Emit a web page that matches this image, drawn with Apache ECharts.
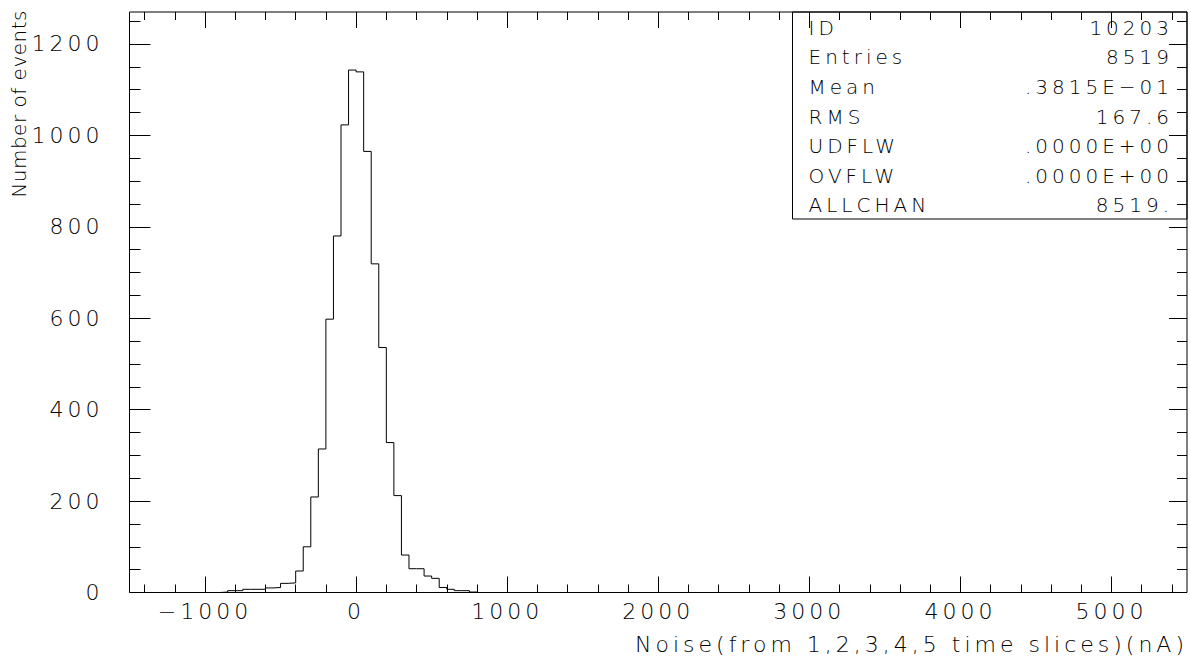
<!DOCTYPE html>
<html><head><meta charset="utf-8">
<script src="https://cdn.jsdelivr.net/npm/echarts@6/dist/echarts.min.js"></script>
<style>
html,body{margin:0;padding:0;background:#fff;}
#chart{width:1191px;height:659px;letter-spacing:4px;}
</style></head><body>
<div id="chart"></div>
<script>
// ---- data (bin width 50) ----
const binLowEdges = [-900,-850,-800,-750,-700,-650,-600,-550,-500,-450,-400,-350,-300,-250,-200,-150,-100,-50,
                     0,50,100,150,200,250,300,350,400,450,500,550,600,650,700,750];
const binWidth = 50;
const counts = [1,4,4,7,7,7,10,11,20,21,47,100,209,314,598,780,1023,1143,
                1139,965,719,536,328,212,82,52,52,36,31,11,7,4,4,1];
const xMajorTicks = [-1000,0,1000,2000,3000,4000,5000];
const yMajorTicks = [0,200,400,600,800,1000,1200];
const statNames  = ['ID','Entries','Mean','RMS','UDFLW','OVFLW','ALLCHAN'];
const statValues = ['10203','8519','.3815E\u221201','167.6','.0000E+00','.0000E+00','8519.'];
const xTitle = 'Noise(from 1,2,3,4,5 time slices)(nA)';
const yTitle = 'Number of events';
const xRange = [-1500, 5500];
const yRange = [0, 1270];

const xMinorTicks = [];
for (let v = -1400; v <= 5400; v += 200) if (v % 1000 !== 0) xMinorTicks.push(v);
const yMinorTicks = [];
for (let v = 50; v <= 1250; v += 50) if (v % 200 !== 0) yMinorTicks.push(v);

// step outline points
const pts = [[binLowEdges[0], 0]];
for (let i = 0; i < counts.length; i++) pts.push([binLowEdges[i], counts[i]]);
const lastEdge = binLowEdges[binLowEdges.length - 1] + binWidth;
pts.push([lastEdge, counts[counts.length - 1]]);
pts.push([lastEdge, 0]);

const FONT = '"DejaVu Sans", sans-serif';
const FW = 200;
const BLACK = '#000';

function xAxisDef(pos, ticks, len, labels) {
  return {
    type: 'value', gridIndex: 0, position: pos, min: xRange[0], max: xRange[1],
    axisLine: { show: false, onZero: false },
    splitLine: { show: false },
    axisTick: { show: true, inside: true, length: len, customValues: ticks, lineStyle: { color: BLACK, width: 1 } },
    axisLabel: labels ? {
      show: true, customValues: ticks, margin: 8, color: BLACK, fontFamily: FONT, fontSize: 22, fontWeight: FW,
      formatter: v => v < 0 ? '\u2212' + Math.abs(v) : String(v)
    } : { show: false }
  };
}
function yAxisDef(pos, ticks, len, labels) {
  return {
    type: 'value', gridIndex: 0, position: pos, min: yRange[0], max: yRange[1],
    axisLine: { show: false, onZero: false },
    splitLine: { show: false },
    axisTick: { show: true, inside: true, length: len, customValues: ticks, lineStyle: { color: BLACK, width: 1 } },
    axisLabel: labels ? {
      show: true, customValues: ticks, margin: 26, color: BLACK, fontFamily: FONT, fontSize: 22, fontWeight: FW,
      formatter: v => String(v)
    } : { show: false }
  };
}

const boxX = 792.5, boxY = 12, boxR = 1187, boxB = 219;
const rowH = (boxB - boxY) / statNames.length;
const graphics = [{
  type: 'rect', silent: true, z: 10,
  shape: { x: boxX, y: boxY, width: boxR - boxX, height: boxB - boxY },
  style: { fill: 'none', stroke: BLACK, lineWidth: 1 }
}];
const boxFont = FW + ' 20px ' + FONT;
statNames.forEach((n, i) => {
  const cy = boxY + rowH * (i + 0.5) + 1;
  graphics.push({ type: 'text', z: 11, x: boxX + 16, y: cy,
    style: { text: n, fill: BLACK, font: boxFont, align: 'left', verticalAlign: 'middle', textAlign: 'left', textVerticalAlign: 'middle' } });
  graphics.push({ type: 'text', z: 11, x: boxR - 14, y: cy,
    style: { text: statValues[i], fill: BLACK, font: boxFont, align: 'right', verticalAlign: 'middle', textAlign: 'right', textVerticalAlign: 'middle' } });
});
graphics.push({ type: 'text', z: 11, x: 1188, y: 644,
  style: { text: xTitle, fill: BLACK, font: FW + ' 22px ' + FONT, align: 'right', verticalAlign: 'middle', textAlign: 'right', textVerticalAlign: 'middle' } });
graphics.push({ type: 'text', z: 11, x: 19, y: 10, rotation: Math.PI / 2,
  style: { text: yTitle, fill: BLACK, font: FW + ' 20px ' + FONT, align: 'right', verticalAlign: 'middle', textAlign: 'right', textVerticalAlign: 'middle' } });

const chart = echarts.init(document.getElementById('chart'), null, { renderer: 'svg' });
chart.setOption({
  animation: false,
  backgroundColor: '#fff',
  grid: { left: 129.5, right: 4, top: 12, bottom: 66.5, show: true, borderColor: BLACK, borderWidth: 1, backgroundColor: 'transparent' },
  xAxis: [
    xAxisDef('bottom', xMajorTicks, 16, true),
    xAxisDef('bottom', xMinorTicks, 8, false),
    xAxisDef('top', xMajorTicks, 16, false),
    xAxisDef('top', xMinorTicks, 8, false)
  ],
  yAxis: [
    yAxisDef('left', yMajorTicks, 21, true),
    yAxisDef('left', yMinorTicks, 11, false),
    yAxisDef('right', yMajorTicks, 18, false),
    yAxisDef('right', yMinorTicks, 10, false)
  ],
  series: [{
    type: 'line', xAxisIndex: 0, yAxisIndex: 0, step: 'end', showSymbol: false, symbol: 'none',
    data: pts, lineStyle: { color: BLACK, width: 1 }, silent: true
  }],
  graphic: graphics
});
function fixTitle() {
  document.querySelectorAll('#chart text').forEach(t => {
    if (t.textContent === yTitle) t.style.letterSpacing = '0.5px';
  });
}
fixTitle();
chart.on('finished', fixTitle);
setTimeout(fixTitle, 50);
</script>
</body></html>
